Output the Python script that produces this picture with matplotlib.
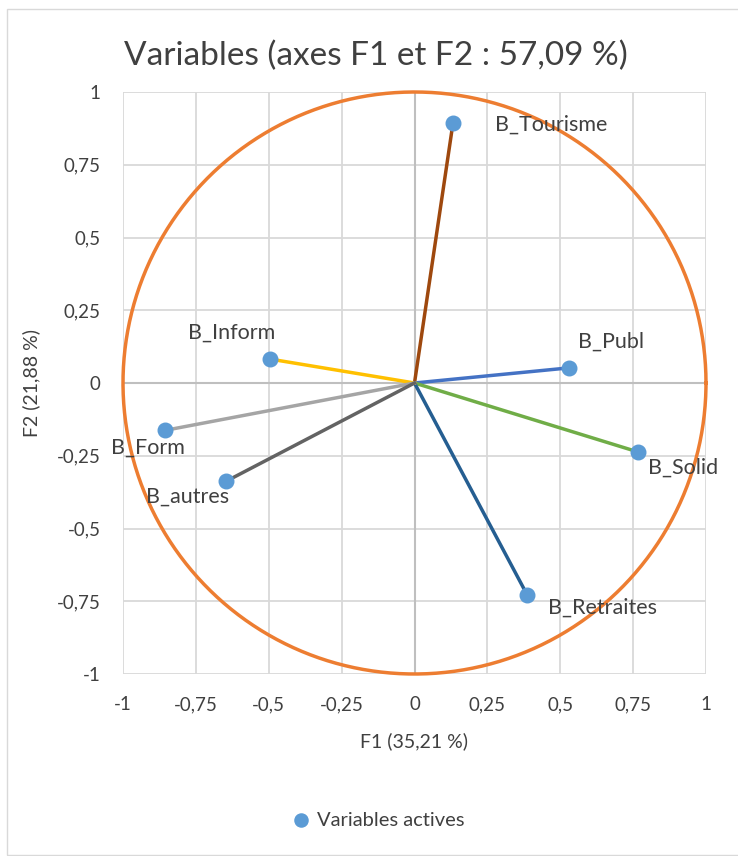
import matplotlib.pyplot as plt
import numpy as np
from matplotlib.patches import Rectangle

plt.rcParams["font.family"] = ["Lato", "DejaVu Sans"]

# Correlations of the active variables with F1 and F2
names = ["B_Tourisme", "B_Publ", "B_Solid", "B_Retraites", "B_Inform", "B_Form", "B_autres"]
f1 = [0.132, 0.530, 0.767, 0.387, -0.494, -0.857, -0.645]
f2 = [0.893, 0.052, -0.237, -0.729, 0.082, -0.163, -0.337]
line_colors = ["#9E480E", "#4472C4", "#70AD47", "#255E91", "#FFC000", "#A5A5A5", "#636363"]
ticks = [-1, -0.75, -0.5, -0.25, 0, 0.25, 0.5, 0.75, 1]
tick_labels = ["-1", "-0,75", "-0,5", "-0,25", "0", "0,25", "0,5", "0,75", "1"]

# label offsets in pixels (dx to left edge, dy to centre)
label_pos = {
    "B_Tourisme": (42, -2),
    "B_Publ": (9, 26),
    "B_Solid": (10, -16),
    "B_Retraites": (21, -13),
    "B_Inform": (-82, 26),
    "B_Form": (-54, -17),
    "B_autres": (-80, -16),
}

text_color = "#404040"
grid_color = "#D9D9D9"

figure = plt.figure(figsize=(7.38, 8.56), dpi=100)
figure.patches.append(
    Rectangle((7 / 738, 1 / 856), 740 / 738, 846 / 856, transform=figure.transFigure,
              fill=False, edgecolor="#D9D9D9", linewidth=1)
)
axis = figure.add_axes([123 / 738, 1 - 674 / 856, 583 / 738, 582 / 856])

axis.set_xlim(-1, 1)
axis.set_ylim(-1, 1)
axis.set_xticks(ticks)
axis.set_yticks(ticks)
axis.set_xticklabels(tick_labels)
axis.set_yticklabels(tick_labels)
axis.grid(color=grid_color, linewidth=1.3)
axis.set_axisbelow(True)
for spine in axis.spines.values():
    spine.set_visible(False)
axis.tick_params(length=0, colors=text_color, labelsize=13.5, pad=16)
axis.axhline(0, color="#BFBFBF", linewidth=1.5, zorder=1)
axis.axvline(0, color="#BFBFBF", linewidth=1.5, zorder=1)

theta = np.linspace(0, 2 * np.pi, 400)
axis.plot(np.cos(theta), np.sin(theta), color="#ED7D31", linewidth=2.5, zorder=2, clip_on=False)

for name, x, y, color in zip(names, f1, f2, line_colors):
    axis.plot([0, x], [0, y], color=color, linewidth=2.5, zorder=3)
    dx, dy = label_pos[name]
    axis.annotate(name, (x, y), xytext=(dx * 0.72, dy * 0.72), textcoords="offset points",
                  ha="left", va="center", fontsize=15.5, color=text_color, zorder=5)

axis.scatter(f1, f2, s=110, color="#5B9BD5", zorder=4, label="Variables actives")

figure.text(376 / 738, 1 - 56 / 856, "Variables (axes F1 et F2 : 57,09 %)",
            ha="center", va="center", fontsize=24, color=text_color)
axis.set_xlabel("F1 (35,21 %)", fontsize=14, color=text_color, labelpad=14)
axis.set_ylabel("F2 (21,88 %)", fontsize=14, color=text_color, labelpad=12)

figure.legend(loc="center", bbox_to_anchor=(373 / 738, 1 - 820 / 856), frameon=False,
              fontsize=14.5, labelcolor=text_color, handletextpad=-0.2, markerscale=0.9)

figure.savefig("out.png", dpi=100)
plt.close(figure)
